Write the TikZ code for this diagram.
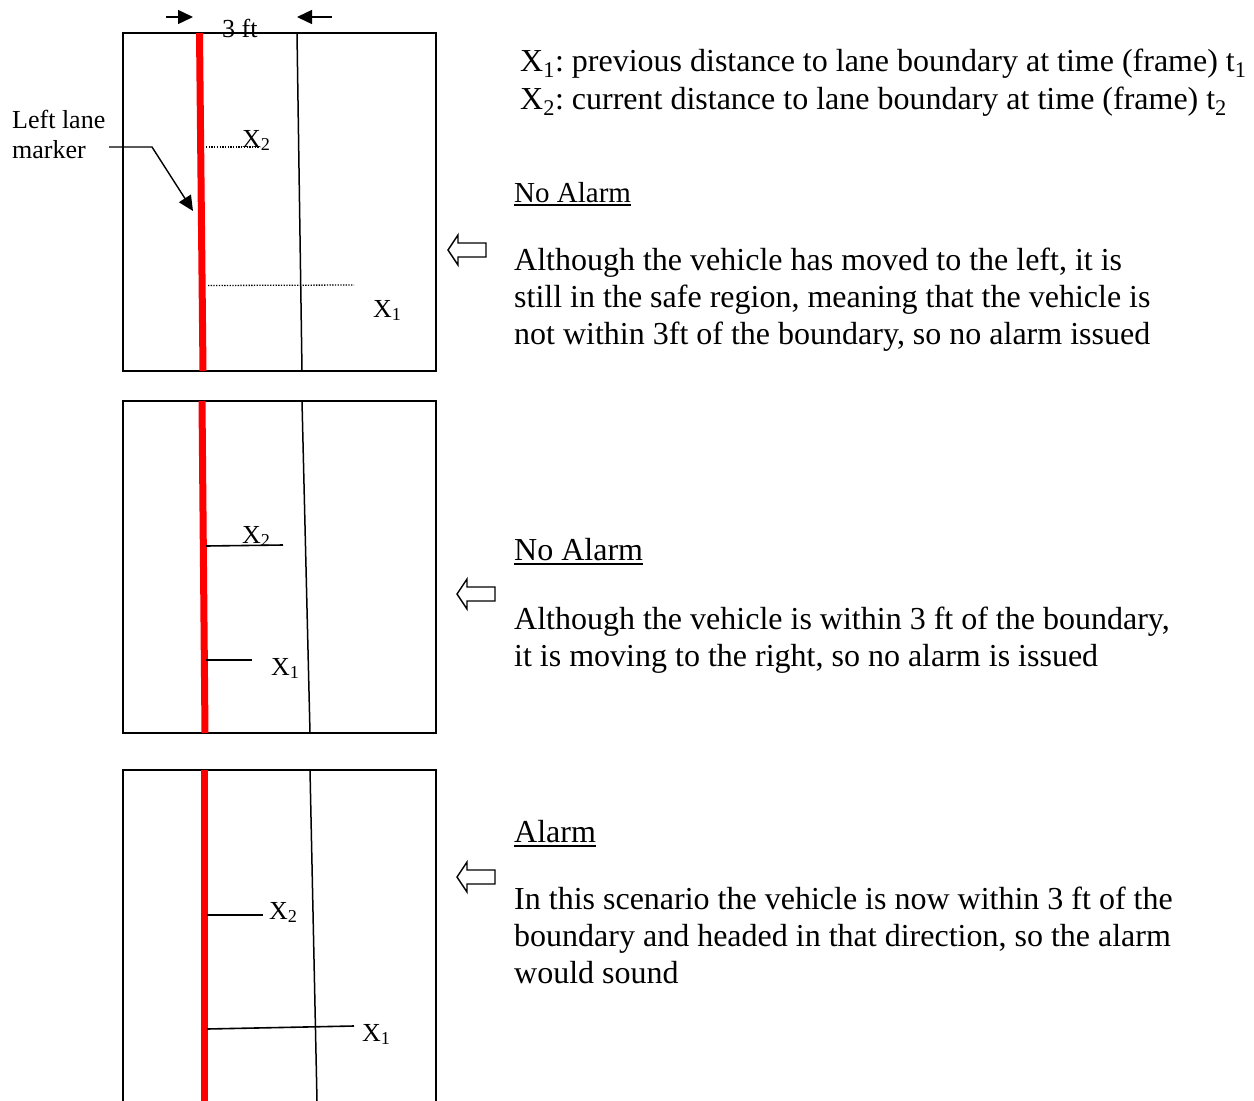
\documentclass[tikz,border=0pt]{standalone}
\usepackage{fontspec}
\setmainfont{Liberation Serif}
\usetikzlibrary{arrows.meta}
\frenchspacing
\begin{document}
\begin{tikzpicture}[x=1pt,y=-1pt,
 lbl/.style={inner sep=0pt,anchor=base west,font=\fontsize{26}{30}\selectfont},
 txt/.style={inner sep=0pt,anchor=base west,font=\fontsize{32}{37}\selectfont},
 head/.style={inner sep=0pt,anchor=base west,font=\fontsize{29}{37}\selectfont},
 frame/.style={line width=1.8pt},
 lane/.style={line width=1.5pt},
 redline/.style={draw=red,line width=7pt},
 tick/.style={line width=1.6pt},
 dots/.style={line width=1.3pt,dash pattern=on 1.3pt off 1.4pt},
 hollow/.style={draw,line width=1.4pt,fill=white,line join=miter},
 uline/.style={line width=1.5pt},
 harrow/.pic={\draw[hollow] (0,0) -- (10,-15) -- (10,-7) -- (38,-7) -- (38,7) -- (10,7) -- (10,15) -- cycle;},
 solidtip/.style={-{Triangle[length=15pt,width=14pt]},line width=1.4pt}
]
\useasboundingbox (0,0) rectangle (1254,1101);

% ---------- Panel 1 ----------
\draw[frame] (123,33) rectangle (436,371);
\draw[redline] (199.5,33) -- (203,371);
\draw[lane] (297,33) -- (302,371);
\coordinate (p1x2a) at (206,147); \coordinate (p1x2b) at (260,147);
\draw[dots] (p1x2a) -- (p1x2b);
\node[lbl] (p1x2) at (242,147) {X\textsubscript{2}};
\coordinate (p1x1a) at (208,285.5); \coordinate (p1x1b) at (354,285);
\draw[dots] (p1x1a) -- (p1x1b);
\node[lbl] (p1x1) at (373,317) {X\textsubscript{1}};

% top "3 ft" arrows
\node[lbl] (ft) at (222,37) {3 ft};
\coordinate (ra1) at (166,17); \coordinate (ra2) at (193,17);
\coordinate (la1) at (332,17); \coordinate (la2) at (297,17);
\draw[solidtip] (ra1) -- (ra2);
\draw[solidtip] (la1) -- (la2);

% left lane marker
\node[lbl] (llm1) at (12,128) {Left lane};
\node[lbl] (llm2) at (12,158) {marker};
\coordinate (llmA) at (109,147);
\coordinate (llmB) at (152,147);
\coordinate (llmC) at (193,211);
\draw[solidtip] (llmA) -- (llmB) -- (llmC);

\pic at (448,250) {harrow};

% ---------- Panel 2 ----------
\draw[frame] (123,401) rectangle (436,733);
\draw[redline] (202,401) -- (205,733);
\draw[lane] (302,401) -- (310,733);
\coordinate (p2x2a) at (206,546); \coordinate (p2x2b) at (283,545);
\draw[tick] (p2x2a) -- (p2x2b);
\node[lbl] (p2x2) at (242,543) {X\textsubscript{2}};
\coordinate (p2x1a) at (206,660); \coordinate (p2x1b) at (252,660);
\draw[tick] (p2x1a) -- (p2x1b);
\node[lbl] (p2x1) at (271,675) {X\textsubscript{1}};

\pic at (457,594) {harrow};

% ---------- Panel 3 ----------
\draw[frame] (123,1101) -- (123,770) -- (436,770) -- (436,1101);
\draw[redline] (204.5,770) -- (204.5,1101);
\draw[lane] (310,770) -- (317,1101);
\coordinate (p3x2a) at (207,915); \coordinate (p3x2b) at (263,915);
\draw[tick] (p3x2a) -- (p3x2b);
\node[lbl] (p3x2) at (269,919) {X\textsubscript{2}};
\coordinate (p3x1a) at (207,1029); \coordinate (p3x1b) at (354,1026);
\draw[tick] (p3x1a) -- (p3x1b);
\node[lbl] (p3x1) at (362,1041) {X\textsubscript{1}};

\pic at (457,877) {harrow};

% ---------- Legend ----------
\node[txt] (leg1) at (520,71) {X\textsubscript{1}: previous distance to lane boundary at time (frame) t\textsubscript{1}};
\node[txt] (leg2) at (520,109) {X\textsubscript{2}: current distance to lane boundary at time (frame) t\textsubscript{2}};

% ---------- Text 1 ----------
\node[head] (h1) at (514,202) {No Alarm};
\draw[uline] ([yshift=-3pt]h1.base west) -- ([yshift=-3pt]h1.base east);
\node[txt] (a1) at (514,270) {Although the vehicle has moved to the left, it is};
\node[txt] (a2) at (514,307) {still in the safe region, meaning that the vehicle is};
\node[txt] (a3) at (514,344) {not within 3ft of the boundary, so no alarm issued};

% ---------- Text 2 ----------
\node[txt] (h2) at (514,560) {No Alarm};
\draw[uline] ([yshift=-4pt]h2.base west) -- ([yshift=-4pt]h2.base east);
\node[txt] (b1) at (514,629) {Although the vehicle is within 3 ft of the boundary,};
\node[txt] (b2) at (514,666) {it is moving to the right, so no alarm is issued};

% ---------- Text 3 ----------
\node[txt] (h3) at (514,842) {Alarm};
\draw[uline] ([yshift=-4pt]h3.base west) -- ([yshift=-4pt]h3.base east);
\node[txt] (c1) at (514,909) {In this scenario the vehicle is now within 3 ft of the};
\node[txt] (c2) at (514,946) {boundary and headed in that direction, so the alarm};
\node[txt] (c3) at (514,983) {would sound};
\end{tikzpicture}
\end{document}
